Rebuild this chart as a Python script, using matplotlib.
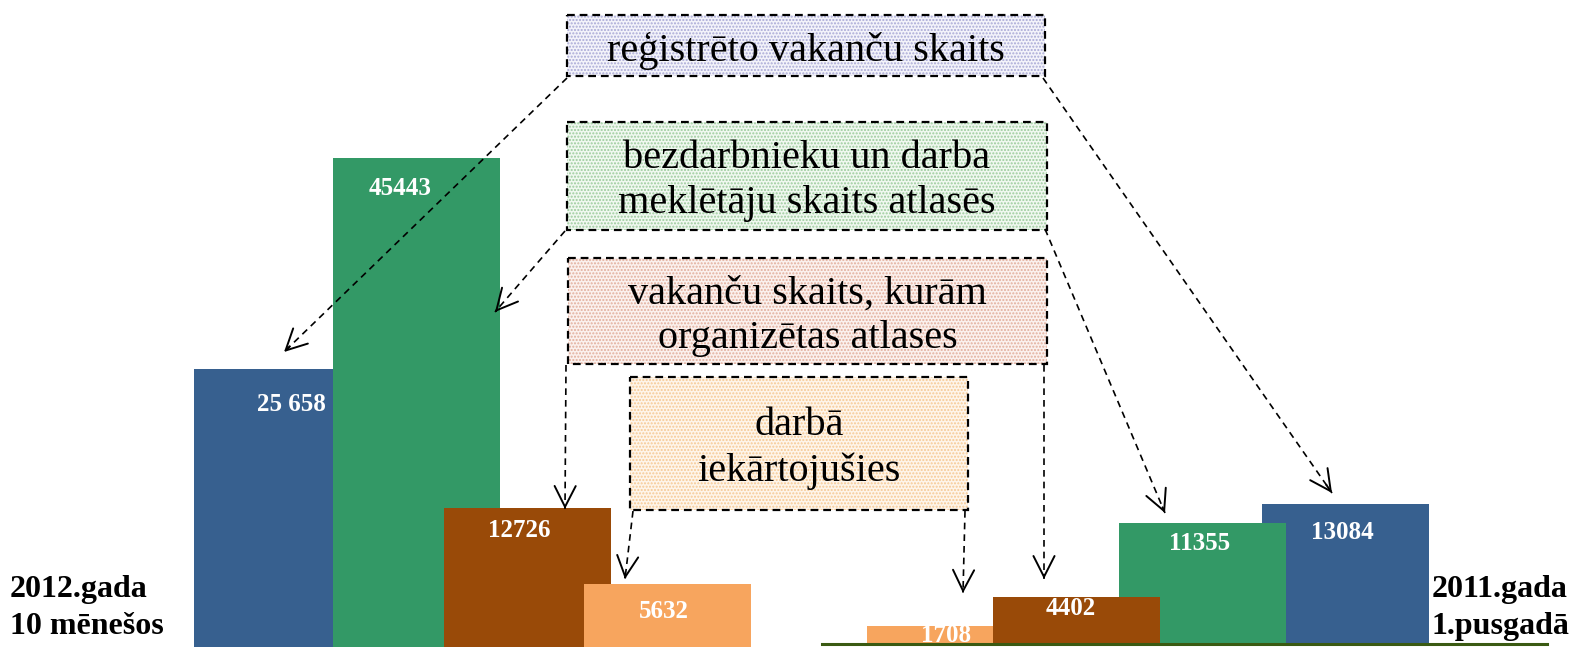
import matplotlib.pyplot as plt
from matplotlib.patches import Rectangle

plt.rcParams['font.family'] = ['Liberation Serif', 'DejaVu Serif']

# data
series = ['reģistrēto vakanču skaits',
          'bezdarbnieku un darba\nmeklētāju skaits atlasēs',
          'vakanču skaits, kurām\norganizētas atlases',
          'darbā\niekārtojušies']
vals_2012 = [25658, 45443, 12726, 5632]
vals_2011 = [13084, 11355, 4402, 1708]
labels_2012 = ['25 658', '45443', '12726', '5632']
labels_2011 = ['13084', '11355', '4402', '1708']
group_2012 = '2012.gada\n10 mēnešos'
group_2011 = '2011.gada\n1.pusgadā'

colors = ['#37608F', '#339966', '#994A08', '#F7A55E']
box_face = ['#F3F3FA', '#F0F8F0', '#FBF1EE', '#FEF5EA']
box_dots = ['#A9A9D6', '#9CCB9C', '#E2AE9C', '#F6C994']

# layout (pixels)
W, H = 1577, 647
base_px = 644
px_per_unit = 0.0107
left_x = [194, 333, 444, 584]
right_x = [1262, 1119, 993, 867]
bar_w = 167
lab_off_2012 = [(14, 35), (-16, 31), (-8, 23), (-4, 28)]
lab_off_2011 = [(-3, 28), (-3, 21), (-6, 12), (-4, 10)]
boxes = [(567, 15, 478, 61), (567, 122, 480, 108), (568, 258, 479, 106), (630, 377, 338, 133)]
arrows = [((567, 78), (284, 352)), ((1043, 78), (1332, 493)),
          ((565, 231), (495, 312)), ((1045, 229), (1165, 513)),
          ((566, 365), (565, 509)), ((1044, 365), (1044, 579)),
          ((633, 511), (625, 579)), ((965, 511), (963, 593))]

fig = plt.figure(figsize=(W / 100, H / 100), dpi=100)
ax = fig.add_axes([0, 0, 1, 1])
ax.set_xlim(0, W)
ax.set_ylim(-(H - base_px) / px_per_unit, base_px / px_per_unit)
ax.axis('off')

# overlay in pixel coords for boxes/arrows/text
ov = fig.add_axes([0, 0, 1, 1])
ov.set_xlim(0, W)
ov.set_ylim(H, 0)
ov.axis('off')
ov.patch.set_alpha(0)

below = -(H - base_px) / px_per_unit - 50
# left group: blue, green, brown, orange
for i in range(4):
    ax.bar(left_x[i], vals_2012[i] - below, bottom=below, width=bar_w, align='edge',
           color=colors[i], zorder=2 + i)
    dx, dy = lab_off_2012[i]
    ov.text(left_x[i] + bar_w / 2 + dx, base_px - vals_2012[i] * px_per_unit + dy,
            labels_2012[i], color='white', fontsize=18, fontweight='bold',
            ha='center', va='center', zorder=20)

# right group: blue, green, orange, brown
for k, i in enumerate([0, 1, 3, 2]):
    ax.bar(right_x[i], vals_2011[i], width=bar_w, align='edge',
           color=colors[i], zorder=2 + k)
for i in range(4):
    dx, dy = lab_off_2011[i]
    ov.text(right_x[i] + bar_w / 2 + dx, base_px - vals_2011[i] * px_per_unit + dy,
            labels_2011[i], color='white', fontsize=18, fontweight='bold',
            ha='center', va='center', zorder=20, clip_on=True)

ax.plot([822, 1547], [0, 0], color='#3A5A12', lw=2.2, zorder=10)

# legend-like boxes
for i, (bx, by, bw, bh) in enumerate(boxes):
    ov.add_patch(Rectangle((bx, by), bw, bh, facecolor=box_face[i], edgecolor=box_dots[i],
                           hatch='.....', lw=0, zorder=5))
    ov.add_patch(Rectangle((bx, by), bw, bh, fill=False, edgecolor='black', lw=1.6,
                           linestyle=(0, (3.5, 2.2)), zorder=6))
    ov.text(bx + bw / 2, by + bh / 2 + 5, series[i], fontsize=29, ha='center', va='center',
            linespacing=1.27, zorder=7)

# dashed arrows with open heads
for (x0, y0), (x1, y1) in arrows:
    ov.plot([x0, x1], [y0, y1], color='black', lw=1.2, linestyle=(0, (4, 3)), zorder=8)
    fx = x1 - (x1 - x0) * 0.02
    fy = y1 - (y1 - y0) * 0.02
    ov.annotate('', xy=(x1, y1), xytext=(fx, fy),
                arrowprops=dict(arrowstyle='->,head_length=0.75,head_width=0.38',
                                lw=1.4, color='black', mutation_scale=20,
                                shrinkA=0, shrinkB=0), zorder=9)

ov.text(10, 608, group_2012, fontsize=23, fontweight='bold', ha='left', va='center',
        linespacing=1.35)
ov.text(1432, 608, group_2011, fontsize=23, fontweight='bold', ha='left', va='center',
        linespacing=1.35)

fig.savefig('out.png', dpi=100)
